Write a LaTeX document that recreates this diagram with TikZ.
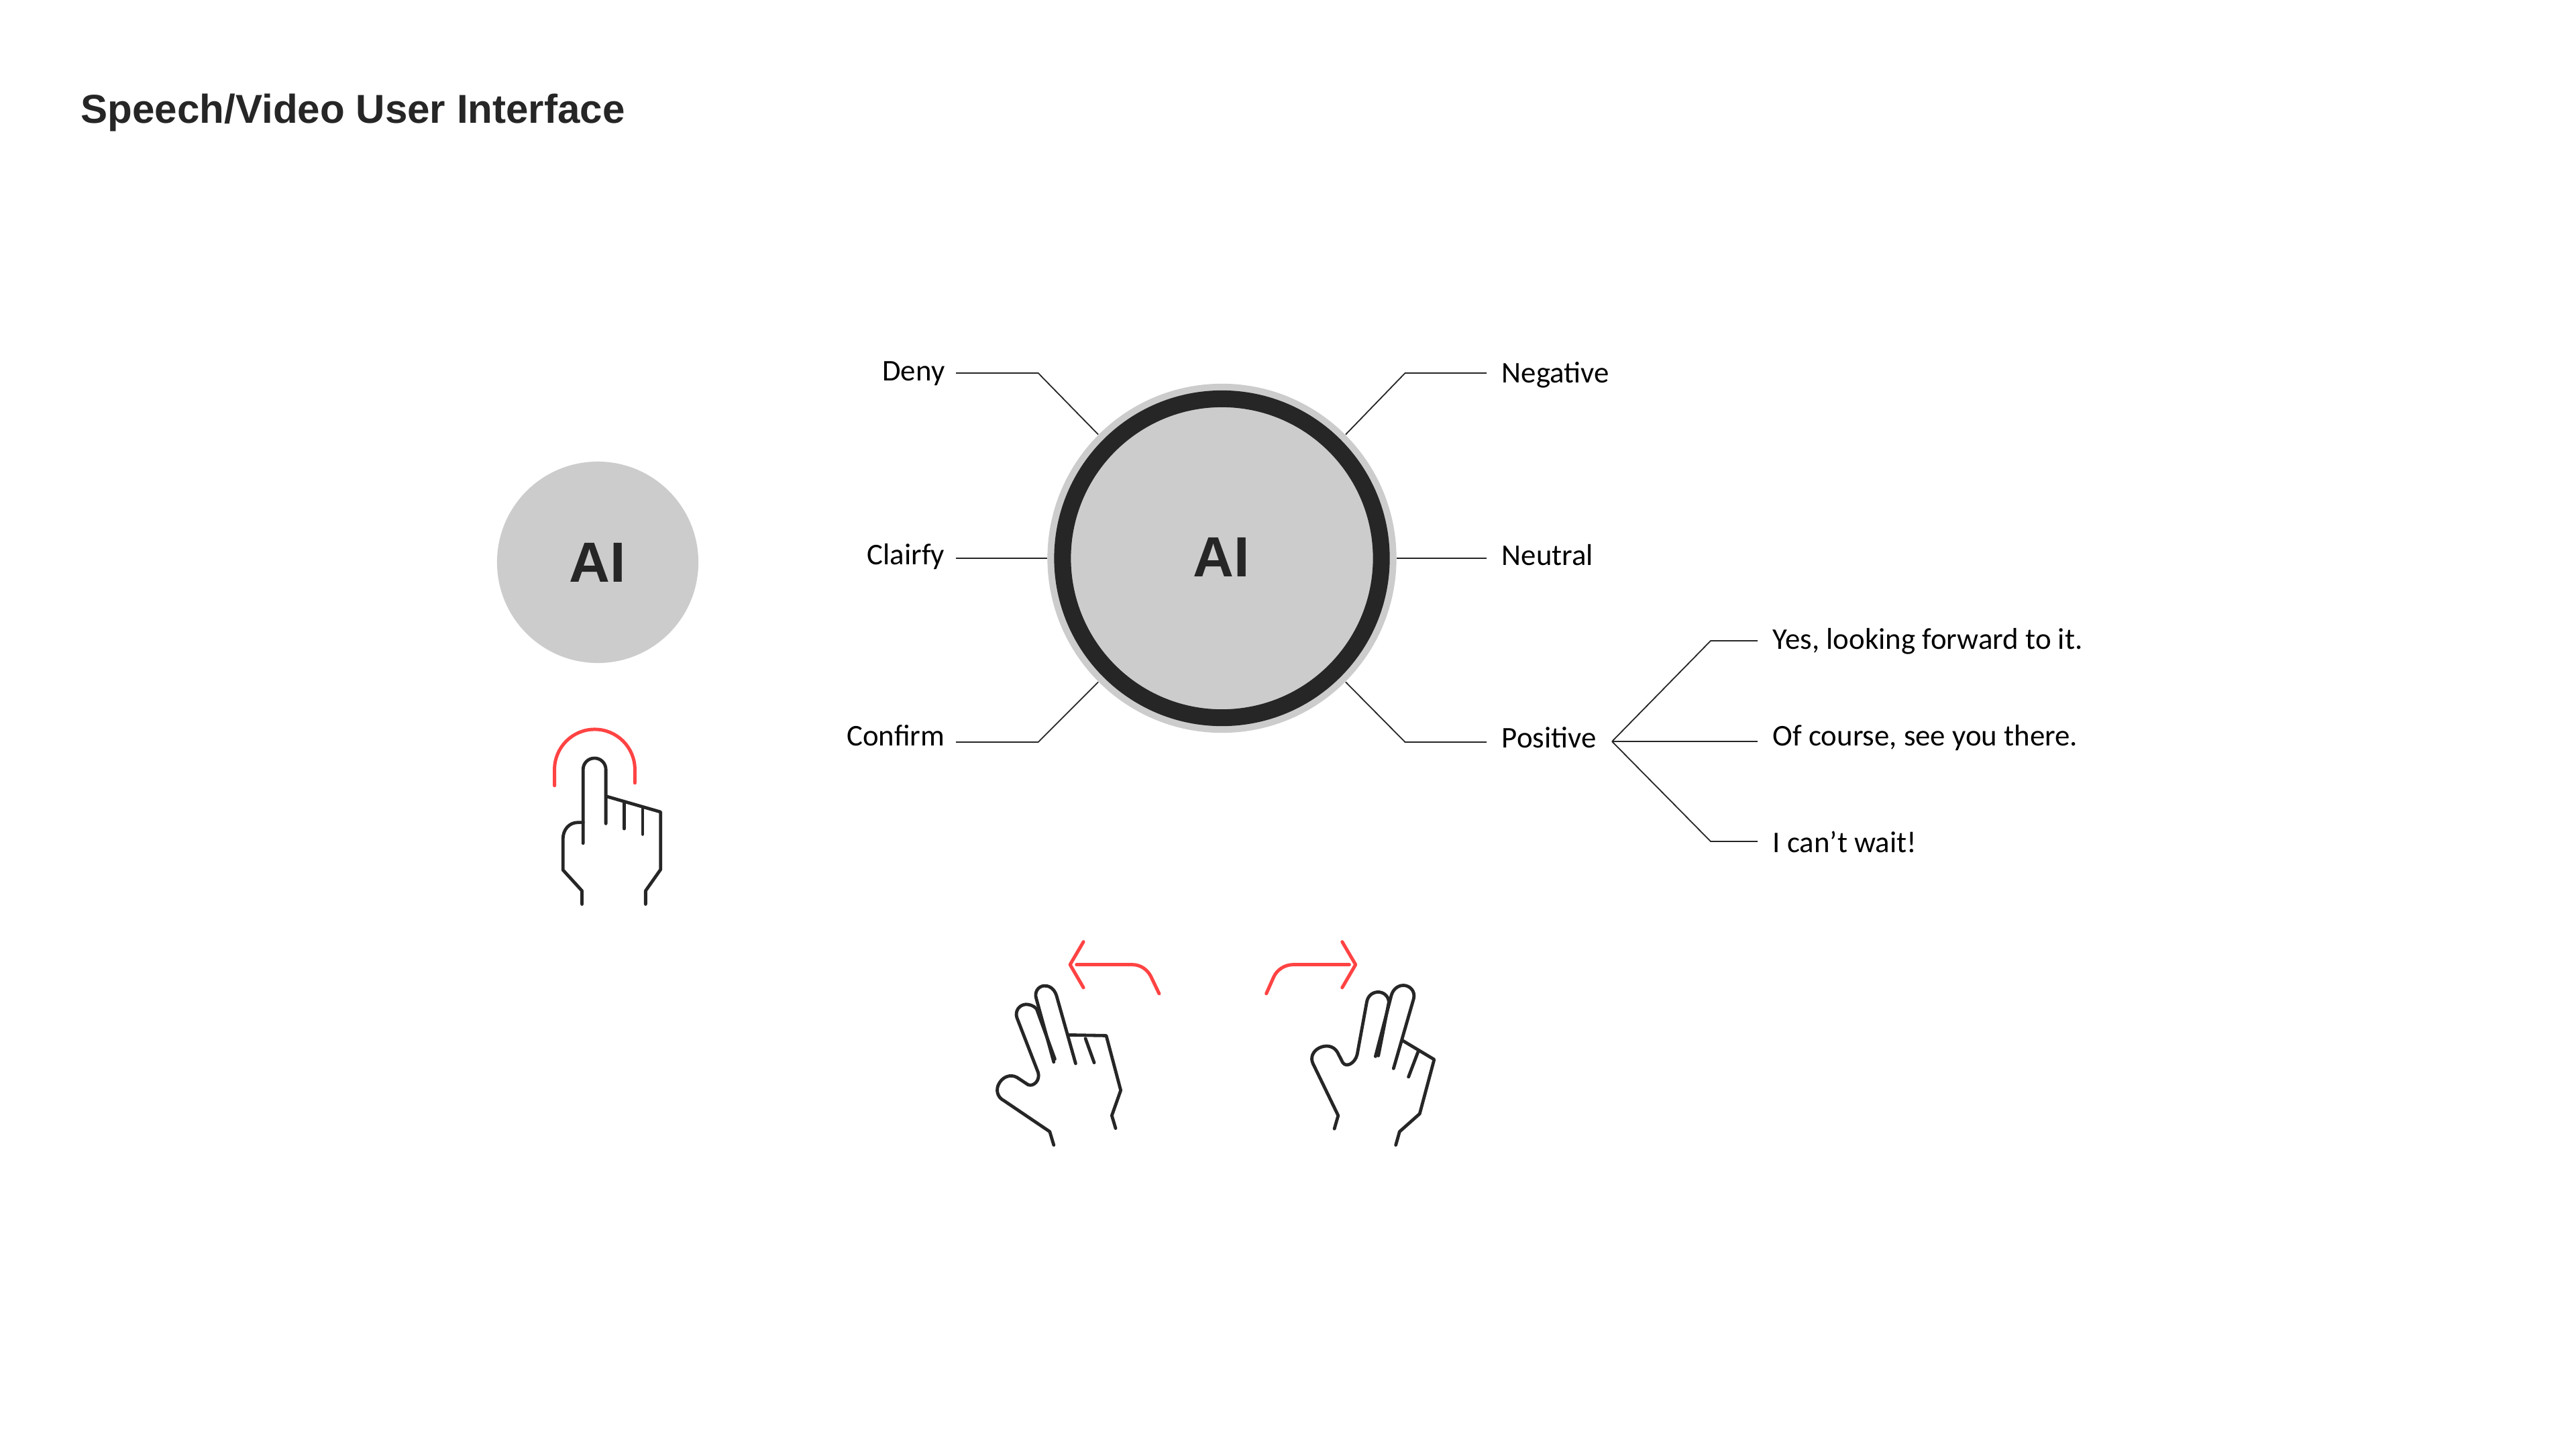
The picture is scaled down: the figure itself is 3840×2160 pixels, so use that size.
\documentclass[tikz,border=0pt]{standalone}
\usepackage{fontspec}
\setmainfont{Liberation Sans}
\newfontfamily\labelfont{Carlito}
\usetikzlibrary{positioning}
\definecolor{InkDark}{HTML}{262626}
\definecolor{DiscGrey}{HTML}{CCCCCC}
\definecolor{SwipeRed}{HTML}{FF4343}
\tikzset{disc/.style={circle,fill=DiscGrey,inner sep=0pt,text=InkDark,font=\bfseries\fontsize{24}{28}\selectfont},
 wire/.style={draw=InkDark,line width=.018cm},
 answer/.style={font=\labelfont\fontsize{12.75}{16}\selectfont,text=black,inner ysep=0pt,text height=.3cm,text depth=.1cm},
 inkline/.style={draw=InkDark,line width=.048cm,line cap=round,line join=round},
 redline/.style={draw=SwipeRed,line width=.05cm,line cap=round,line join=round},
 zoomed/.style={x=.0033333cm,y=-.0033333cm}}
\begin{document}
\begin{tikzpicture}[x=.01cm,y=-.01cm]
\path[use as bounding box,fill=white] (0,0) rectangle (3840,2160);
\node[anchor=west,inner sep=0pt,text=InkDark,font=\bfseries\fontsize{17.1}{20}\selectfont] (title) at (120,168) {Speech/Video User Interface};
\node[disc,minimum size=3cm] (smallAI) at (891,838) {AI};
\node[disc,minimum size=5.2cm] (bigAI) at (1821.5,832) {};
\node[circle,draw=InkDark,line width=.25cm,minimum size=4.75cm,inner sep=0pt] (bigRing) at (bigAI) {};
\node[text=InkDark,inner sep=0pt,font=\bfseries\fontsize{24}{28}\selectfont] (bigText) at (1821,830) {AI};
\foreach \nm/\lab/\ang/\yl/\yb in {deny/Deny/135/557/556,clairfy/Clairfy/180/831/832,confirm/Confirm/225/1101/1106}
 {\node[answer,anchor=east,inner xsep=.16cm] (\nm) at (1425,\yl) {\lab};
 \coordinate (\nm Bend) at (1547.6,\yb);
 \draw[wire] (bigAI.\ang) -- (\nm Bend) -- (\nm Bend -| \nm.east);}
\foreach \nm/\lab/\ang/\yl/\yb in {negative/Negative/45/560/556,neutral/Neutral/0/832/832,positive/Positive/-45/1104/1106}
 {\node[answer,anchor=west,inner xsep=.22cm] (\nm) at (2216,\yl) {\lab};
 \coordinate (\nm Bend) at (2094.5,\yb);
 \draw[wire] (bigAI.\ang) -- (\nm Bend) -- (\nm Bend -| \nm.west);}
\coordinate (fork) at (2403,1105);
\foreach \nm/\lab/\yl/\yb in {yes/{Yes, looking forward to it.}/957/955,course/{Of course, see you there.}/1101/1105,wait/{I can’t wait!}/1260/1254}
 {\node[answer,anchor=west,inner xsep=.22cm] (\nm) at (2620,\yl) {\lab};
 \coordinate (\nm Bend) at (2550,\yb);
 \draw[wire] (fork) -- (\nm Bend) -- (\nm Bend -| \nm.west);}
\begin{scope}[shift={(780,1052)},zoomed]
\draw[redline] (140,357) -- (140,285) arc[start angle=180,end angle=360,radius=180] -- (500,345);
\draw[inkline] (268,615) -- (268,285) arc[start angle=180,end angle=360,radius=51] -- (370,527);
\draw[inkline] (372,405) -- (615,475) -- (615,733) -- (548,828) -- (548,888);
\draw[inkline] (452,435) -- (452,550);
\draw[inkline] (535,458) -- (535,575);
\draw[inkline] (268,522) -- (245,522) .. controls (205,522) and (178,555) .. (178,595) -- (178,735) -- (263,828) -- (263,888);
\end{scope}
\begin{scope}[shift={(1451,1382)},zoomed]
\draw[redline] (493,65) -- (433,167) -- (493,270);
\draw[redline] (462,167) -- (710,167) .. controls (750,167) and (780,190) .. (795,220) -- (832,297);
\draw[inkline] (458,610) -- (372,305) .. controls (360,270) and (335,260) .. (315,262) .. controls (290,265) and (272,290) .. (282,320) -- (360,603);
\draw[inkline] (365,590) -- (283,365) .. controls (270,350) and (250,345) .. (235,345) .. controls (205,347) and (185,375) .. (195,405) -- (290,650) .. controls (300,685) and (270,715) .. (245,705) -- (195,672) .. controls (165,655) and (125,670) .. (110,710) .. controls (100,740) and (115,765) .. (135,775) -- (342,915) -- (360,975);
\draw[inkline] (425,482) -- (595,485) -- (660,730) -- (620,843) -- (637,900);
\draw[inkline] (502,498) -- (541,606);
\end{scope}
\begin{scope}[shift={(1860,1382)},zoomed]
\draw[redline] (423,65) -- (483,167) -- (423,270);
\draw[redline] (455,167) -- (205,167) .. controls (165,167) and (130,190) .. (115,225) -- (83,297);
\draw[inkline] (653,632) -- (743,320) .. controls (752,285) and (725,260) .. (697,260) .. controls (670,260) and (650,280) .. (643,305) -- (572,578);
\draw[inkline] (585,575) -- (632,335) .. controls (630,305) and (605,288) .. (580,290) .. controls (555,292) and (537,310) .. (533,335) -- (490,570) .. controls (480,610) and (440,630) .. (425,605) -- (402,560) .. controls (385,530) and (350,525) .. (320,540) .. controls (290,555) and (280,585) .. (292,610) -- (405,843) -- (388,902);
\draw[inkline] (695,508) -- (835,592) -- (770,835) -- (680,915) -- (663,975);
\draw[inkline] (763,557) -- (720,670);
\end{scope}
\end{tikzpicture}
\end{document}
